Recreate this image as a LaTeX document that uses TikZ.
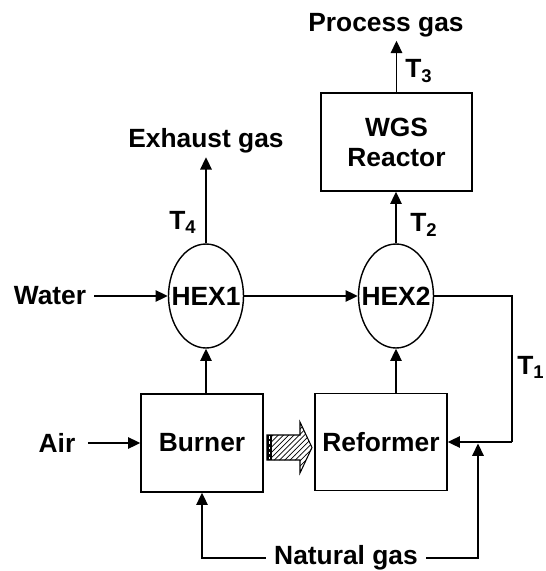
\documentclass[tikz,border=0pt]{standalone}
\usepackage{fontspec}
\setmainfont{Liberation Sans}
\usepackage{tikz}
\usetikzlibrary{arrows.meta,positioning,calc,shapes.geometric,patterns}

\begin{document}
\begin{tikzpicture}[
  x=0.02cm, y=-0.02cm,
  font=\bfseries\fontsize{15}{17}\selectfont,
  unit/.style={draw, line width=0.8pt, inner sep=0pt, align=center},
  hexcell/.style={draw, ellipse, line width=0.8pt, inner sep=0pt, minimum width=1.5cm, minimum height=2.08cm},
  lab/.style={inner ysep=2pt, inner xsep=4.5pt},
  flow/.style={line width=0.9pt, -{Triangle[length=7pt,width=6.5pt]}},
  pipe/.style={line width=0.9pt}
]
\useasboundingbox (0,0) rectangle (545,571);

% Units.
\node[unit, minimum width=2.44cm, minimum height=1.96cm] (burner) at (202,443) {Burner};
\node[unit, minimum width=2.64cm, minimum height=1.94cm] (reformer) at (381,442) {Reformer};
\node[unit, minimum width=3.02cm, minimum height=1.96cm] (wgs) at (396.5,142) {WGS\\Reactor};
\node[hexcell] (hex1) at (206,296) {\makebox[0pt]{HEX1}};
\node[hexcell] (hex2) at (396,296) {\makebox[0pt]{HEX2}};

% Streams.
\node[lab] (water) at (50,296) {Water};
\node[lab, inner xsep=7pt] (air) at (57,443) {Air};
\node[lab] (exhaust) at (206,141) {Exhaust gas};
\node[lab] (process) at (386,25) {Process gas};
\node[lab] (natgas) at (346,558) {Natural gas};

% Temperatures.
\node (t4) at (183,222) {T\textsubscript{4}};
\node (t2) at (424,225) {T\textsubscript{2}};
\node (t3) at (419,71) {T\textsubscript{3}};
\node (t1) at (531,367) {T\textsubscript{1}};

\coordinate (loop) at (512,442);
\coordinate (ngin) at (478,443.5);

\draw[flow] (water.east) -- (hex1.west);
\draw[flow] (hex1.east) -- (hex2.west);
\draw[flow] (air.east) -- (burner.west);
\draw[flow] (burner.north -| hex1.south) -- (hex1.south);
\draw[flow] (reformer.north -| hex2.south) -- (hex2.south);
\draw[flow] (hex1.north) -- (exhaust.south);
\draw[flow] (hex2.north) -- (wgs.south -| hex2.north);
\draw[flow] (wgs.north) -- (wgs.north |- process.south);
\draw[pipe] (hex2.east) -| (loop);
\draw[flow] (loop) -- (reformer.east);
\draw[flow] (natgas.east) -| (ngin);
\draw[flow] (natgas.west) -| (burner.south);

% Heat from burner to reformer.
\draw[line width=0.6pt, pattern=north east lines] (267,435) -- (300,435) -- (300,422) -- (312,447.5) -- (300,473) -- (300,460) -- (267,460) -- cycle;
\fill (267,435) rectangle (272,460);
\draw[white, line width=0.5pt, dash pattern=on 1.5pt off 1.5pt] (269.5,436) -- (269.5,459);
\end{tikzpicture}
\end{document}
